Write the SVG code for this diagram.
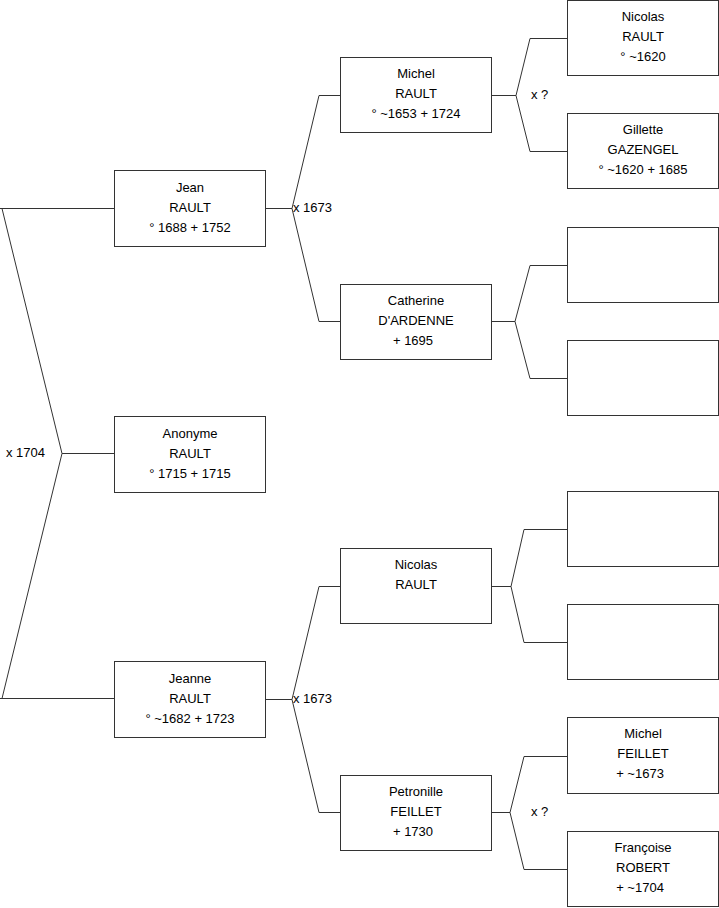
<svg xmlns="http://www.w3.org/2000/svg" width="719" height="908" viewBox="0 0 719 908">
<style>
.box{fill:#fff;stroke:#333;stroke-width:1}
.t{font-family:"Liberation Sans",Arial,sans-serif;font-size:13px;fill:#000;text-anchor:middle}
.l{font-family:"Liberation Sans",Arial,sans-serif;font-size:13px;fill:#000}
.c{fill:none;stroke:#333;stroke-width:1}
</style>
<rect width="719" height="908" fill="#fff"/>
<g id="connectors" class="c">
<path d="M0,208.5 H114 M2,208.5 L62,453.5 L2,698.5 M0,698.5 H114 M62,453.5 H114"/>
<path d="M265,208.5 H292 M319,95.5 L292,208.5 L319,321.5 M319,95.5 H341 M319,321.5 H341"/>
<path d="M491,95.5 H516 M530,38.5 L516,95.5 L530,151.5 M530,38.5 H567 M530,151.5 H567"/>
<path d="M491,321.5 H515 M530,265.5 L515,321.5 L530,378.5 M530,265.5 H567 M530,378.5 H567"/>
<path d="M265,699.5 H292 M319,586.5 L292,699.5 L319,812.5 M319,586.5 H341 M319,812.5 H341"/>
<path d="M491,586.5 H511 M524,529.5 L511,586.5 L524,642.5 M524,529.5 H567 M524,642.5 H567"/>
<path d="M491,812.5 H510 M524,756.5 L510,812.5 L524,869.5 M524,756.5 H567 M524,869.5 H567"/>
</g>
<g id="labels">
<text class="l" x="6" y="457">x 1704</text>
<text class="l" x="293" y="212">x 1673</text>
<text class="l" x="293" y="703">x 1673</text>
<text class="l" x="531" y="99">x ?</text>
<text class="l" x="531" y="816">x ?</text>
</g>
<g id="jean"><rect class="box" x="114.5" y="170.5" width="151" height="76"/>
<text class="t" x="190" y="192">Jean</text><text class="t" x="190" y="212">RAULT</text><text class="t" x="190" y="232">° 1688 + 1752</text></g>
<g id="anonyme"><rect class="box" x="114.5" y="416.5" width="151" height="76"/>
<text class="t" x="190" y="438">Anonyme</text><text class="t" x="190" y="458">RAULT</text><text class="t" x="190" y="478">° 1715 + 1715</text></g>
<g id="jeanne"><rect class="box" x="114.5" y="661.5" width="151" height="76"/>
<text class="t" x="190" y="683">Jeanne</text><text class="t" x="190" y="703">RAULT</text><text class="t" x="190" y="723">° ~1682 + 1723</text></g>
<g id="michel-rault"><rect class="box" x="340.5" y="57.5" width="151" height="75"/>
<text class="t" x="416" y="78">Michel</text><text class="t" x="416" y="98">RAULT</text><text class="t" x="416" y="118">° ~1653 + 1724</text></g>
<g id="catherine"><rect class="box" x="340.5" y="284.5" width="151" height="75"/>
<text class="t" x="416" y="305">Catherine</text><text class="t" x="416" y="325">D'ARDENNE</text><text class="t" x="413" y="345">+ 1695</text></g>
<g id="nicolas-rault-2"><rect class="box" x="340.5" y="548.5" width="151" height="75"/>
<text class="t" x="416" y="569">Nicolas</text><text class="t" x="416" y="589">RAULT</text></g>
<g id="petronille"><rect class="box" x="340.5" y="775.5" width="151" height="75"/>
<text class="t" x="416" y="796">Petronille</text><text class="t" x="416" y="816">FEILLET</text><text class="t" x="413" y="836">+ 1730</text></g>
<g id="nicolas-rault-1"><rect class="box" x="567.5" y="0.5" width="151" height="75"/>
<text class="t" x="643" y="21">Nicolas</text><text class="t" x="643" y="41">RAULT</text><text class="t" x="643" y="61">° ~1620</text></g>
<g id="gillette"><rect class="box" x="567.5" y="113.5" width="151" height="75"/>
<text class="t" x="643" y="134">Gillette</text><text class="t" x="643" y="154">GAZENGEL</text><text class="t" x="643" y="174">° ~1620 + 1685</text></g>
<g id="empty-1"><rect class="box" x="567.5" y="227.5" width="151" height="75"/></g>
<g id="empty-2"><rect class="box" x="567.5" y="340.5" width="151" height="75"/></g>
<g id="empty-3"><rect class="box" x="567.5" y="491.5" width="151" height="75"/></g>
<g id="empty-4"><rect class="box" x="567.5" y="604.5" width="151" height="75"/></g>
<g id="michel-feillet"><rect class="box" x="567.5" y="717.5" width="151" height="76"/>
<text class="t" x="643" y="738">Michel</text><text class="t" x="643" y="758">FEILLET</text><text class="t" x="640" y="778">+ ~1673</text></g>
<g id="francoise"><rect class="box" x="567.5" y="831.5" width="151" height="75"/>
<text class="t" x="643" y="852">Françoise</text><text class="t" x="643" y="872">ROBERT</text><text class="t" x="640" y="892">+ ~1704</text></g>
</svg>
